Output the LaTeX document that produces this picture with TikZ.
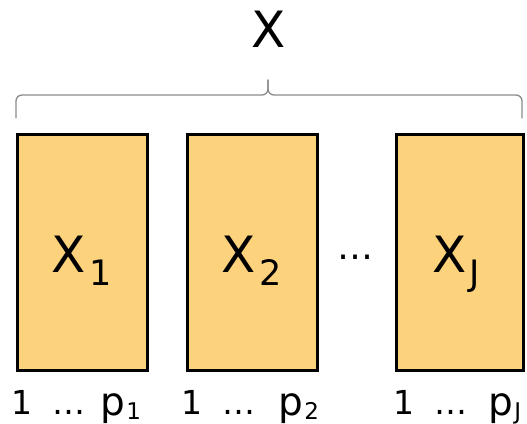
\documentclass[tikz,border=0pt]{standalone}
\usepackage{fontspec}
\setmainfont{DejaVu Sans}
\definecolor{boxfill}{HTML}{FDD27C}
\definecolor{bracegray}{HTML}{8A8A8A}
\begin{document}
\begin{tikzpicture}[x=1pt,y=-1pt,
  blk/.style={draw=black, line width=3pt, fill=boxfill, minimum width=130pt, minimum height=236pt, inner sep=0pt},
  big/.style={font=\fontsize{50}{50}\selectfont, inner sep=0pt, anchor=base},
  sub/.style={font=\fontsize{35}{35}\selectfont, inner sep=0pt, anchor=base west},
  idx/.style={font=\fontsize{33}{33}\selectfont, inner sep=0pt, anchor=base},
  pp/.style={font=\fontsize{39}{39}\selectfont, inner sep=0pt, anchor=base west},
  idxsub/.style={font=\fontsize{23}{23}\selectfont, inner sep=0pt, anchor=base west},
  bracel/.style={draw=bracegray, line width=1.3pt, line cap=round, rounded corners=6pt}]
\useasboundingbox (0,0) rectangle (527,423);
% brace
\coordinate (bl) at (16,118);
\coordinate (br) at (522,118);
\coordinate (bt) at (268,80);
\draw[bracel] (bl) -- (16,95) -- (268,95) -- (bt);
\draw[bracel] (bt) -- (268,95) -- (522,95) -- (br);
\node[big] (top) at (269,47) {X};
% blocks
\node[blk] (b1) at (82.5,252.5) {};
\node[blk] (b2) at (252.5,252.5) {};
\node[blk, minimum width=127pt] (bJ) at (460,252.5) {};
% block labels
\node[big] (x1) at (69,272) {X};
\node[sub] (s1) at ([xshift=3pt,yshift=-13pt]x1.base east) {1};
\node[big] (x2) at (239,272) {X};
\node[sub] (s2) at ([xshift=3pt,yshift=-13pt]x2.base east) {2};
\node[big] (xJ) at (450,272) {X};
\node[sub] (sJ) at ([xshift=2pt,yshift=-13pt]xJ.base east) {J};
% dots between blocks
\node[font=\fontsize{36}{36}\selectfont, inner sep=0pt, anchor=base] (mdots) at (355,259) {…};
% indices
\node[idx] (o1) at (22,414) {1};
\node[idx] (d1) at (69,414) {…};
\node[pp] (p1) at (100,415) {p};
\node[idxsub] (q1) at ([xshift=1pt,yshift=-4pt]p1.base east) {1};
\node[idx] (o2) at (192,414) {1};
\node[idx] (d2) at (239,414) {…};
\node[pp] (p2) at (278,415) {p};
\node[idxsub] (q2) at ([xshift=1pt,yshift=-4pt]p2.base east) {2};
\node[idx] (oJ) at (404,414) {1};
\node[idx] (dJ) at (451,414) {…};
\node[pp] (pJ) at (488,415) {p};
\node[idxsub] (qJ) at ([xshift=1pt,yshift=-4pt]pJ.base east) {J};
\end{tikzpicture}
\end{document}
